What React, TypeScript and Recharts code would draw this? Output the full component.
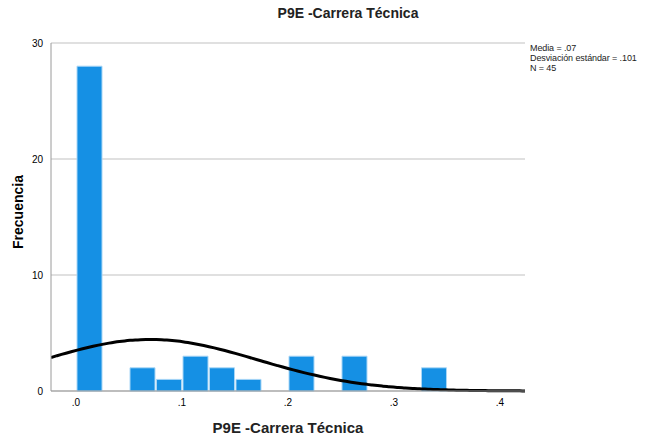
import { Bar, CartesianGrid, ComposedChart, Line, XAxis, YAxis } from "recharts"

// histogram bins (width .025), counts
const binCenters = [0.0125, 0.0625, 0.0875, 0.1125, 0.1375, 0.1625, 0.2125, 0.2625, 0.3375]
const binCounts = [28, 2, 1, 3, 2, 1, 3, 3, 2]
const binWidth = 0.025

const xTicks = [0, 0.1, 0.2, 0.3, 0.4]
const yTicks = [0, 10, 20, 30]

// summary printed on the chart
const mean = 0.07
const stdDev = 0.101
const n = 45

const xMin = -0.0236
const xMax = 0.4236

const chartData = binCenters.map((x, i) => ({ x, count: binCounts[i] }))

// fitted normal curve, scaled to counts
const curveData: { x: number; normal: number }[] = []
for (let k = 0; k <= 90; k++) {
  const x = xMin + ((xMax - xMin) * k) / 90
  const z = (x - mean) / stdDev
  curveData.push({
    x,
    normal: (n * binWidth * Math.exp(-0.5 * z * z)) / (stdDev * Math.sqrt(2 * Math.PI)),
  })
}

const font = '"Liberation Sans", Arial, sans-serif'

function fmtTick(v: number) {
  return v.toFixed(1).replace(/^0/, "")
}

export default function App() {
  return (
    <div
      style={{
        position: "absolute",
        left: 0,
        top: 0,
        width: 645,
        height: 442,
        background: "#fff",
        fontFamily: font,
        color: "#000",
        overflow: "hidden",
      }}
    >
      <div
        style={{
          position: "absolute",
          top: 5,
          left: 248,
          width: 200,
          textAlign: "center",
          fontSize: 14,
          fontWeight: "bold",
          color: "#222",
        }}
      >
        P9E -Carrera Técnica
      </div>
      <ComposedChart
        width={645}
        height={442}
        data={chartData}
        margin={{ top: 43, right: 120, bottom: 21, left: 21 }}
        style={{ fontFamily: font }}
      >
        <CartesianGrid vertical={false} stroke="#d6d6d6" strokeWidth={1.5} />
        <XAxis
          dataKey="x"
          type="number"
          domain={[xMin, xMax]}
          ticks={xTicks}
          tickFormatter={fmtTick}
          tickLine={false}
          axisLine={{ stroke: "#9a9a9a" }}
          tick={{ fontSize: 10, fill: "#000" }}
          height={30}
          allowDataOverflow
        />
        <XAxis
          xAxisId="curve"
          dataKey="x"
          type="number"
          domain={[xMin, xMax]}
          hide
          allowDataOverflow
        />
        <YAxis
          type="number"
          domain={[0, 30]}
          ticks={yTicks}
          tickLine={false}
          axisLine={{ stroke: "#9a9a9a" }}
          tick={{ fontSize: 10, fill: "#000" }}
          width={30}
        />
        <Bar
          dataKey="count"
          barSize={25}
          fill="#1590e4"
          stroke="#a8d6f6"
          strokeWidth={1}
          isAnimationActive={false}
        />
        <Line
          xAxisId="curve"
          data={curveData}
          dataKey="normal"
          type="monotone"
          stroke="#000"
          strokeWidth={3}
          dot={false}
          isAnimationActive={false}
        />
      </ComposedChart>
      <div
        style={{
          position: "absolute",
          left: 0,
          top: 212,
          width: 0,
          height: 0,
        }}
      >
        <div
          style={{
            position: "absolute",
            left: 18,
            top: 0,
            transform: "translate(-50%, -50%) rotate(-90deg)",
            fontSize: 14,
            fontWeight: "bold",
            whiteSpace: "nowrap",
          }}
        >
          Frecuencia
        </div>
      </div>
      <div
        style={{
          position: "absolute",
          top: 419,
          left: 188,
          width: 200,
          textAlign: "center",
          fontSize: 15,
          fontWeight: "bold",
          color: "#222",
        }}
      >
        P9E -Carrera Técnica
      </div>
      <div
        style={{
          position: "absolute",
          left: 530,
          top: 43,
          fontSize: 9,
          lineHeight: "10px",
          color: "#222",
          whiteSpace: "nowrap",
          letterSpacing: -0.1,
        }}
      >
        <div>Media = .07</div>
        <div>Desviación estándar = .101</div>
        <div>N = 45</div>
      </div>
    </div>
  )
}
